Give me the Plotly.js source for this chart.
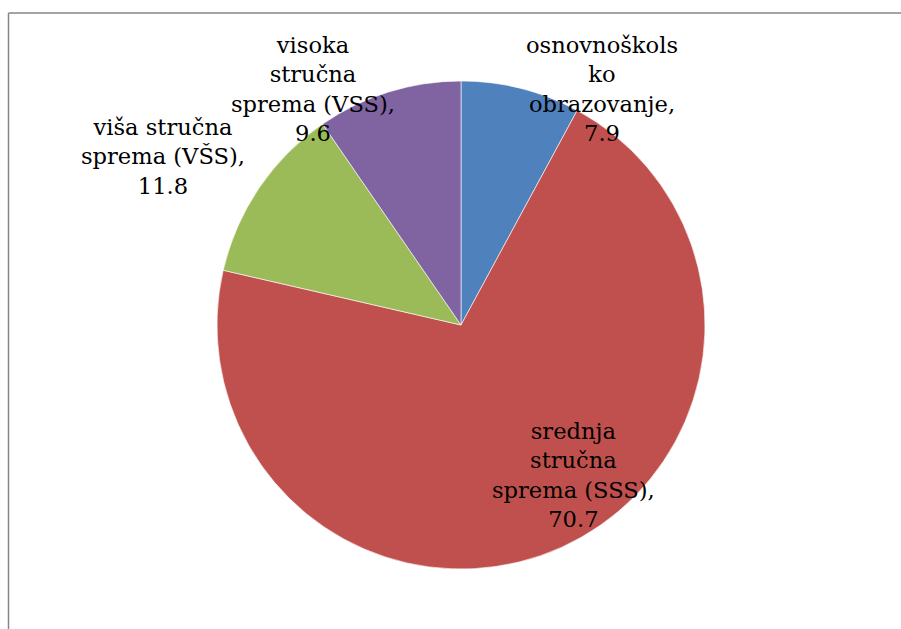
<!DOCTYPE html>
<html>
<head>
<meta charset="utf-8">
<script src="https://cdn.plot.ly/plotly-3.0.1.min.js"></script>
<style>html,body{margin:0;padding:0;background:#fff;}#chart{width:901px;height:629px;}</style>
</head>
<body>
<div id="chart"></div>
<script>
// Data
const categories = ["osnovnoškolsko obrazovanje", "srednja stručna sprema (SSS)", "viša stručna sprema (VŠS)", "visoka stručna sprema (VSS)"];
const wrappedLabels = ["osnovnoškols<br>ko<br>obrazovanje,", "srednja<br>stručna<br>sprema (SSS),", "viša stručna<br>sprema (VŠS),", "visoka<br>stručna<br>sprema (VSS),"];
const values = [7.9, 70.7, 11.8, 9.6];
const colors = ["#4F81BD", "#C0504D", "#9BBB59", "#8064A2"];

// label centres (pixels) for each slice's data label
const labelPos = [[602, 89], [573, 475], [163, 157], [313, 89]];

const W = 901, H = 629;
const cx = 461, cy = 325, r = 244;

const trace = {
  type: "pie",
  labels: categories,
  values: values,
  sort: false,
  direction: "clockwise",
  rotation: 0,
  textinfo: "none",
  hoverinfo: "label+value",
  marker: {colors: colors, line: {color: "rgba(255,255,255,0.6)", width: 1}},
  domain: {x: [(cx - r) / W, (cx + r) / W], y: [(H - cy - r) / H, (H - cy + r) / H]},
  showlegend: false
};

const annotations = categories.map((c, i) => ({
  xref: "paper", yref: "paper",
  x: labelPos[i][0] / W, y: 1 - labelPos[i][1] / H,
  xanchor: "center", yanchor: "middle",
  text: wrappedLabels[i] + "<br>" + values[i].toFixed(1),
  showarrow: false,
  align: "center",
  font: {family: "DejaVu Serif", size: 22.6, color: "#000"}
}));

const layout = {
  width: W, height: H,
  margin: {l: 0, r: 0, t: 0, b: 0},
  paper_bgcolor: "#fff",
  plot_bgcolor: "#fff",
  annotations: annotations,
  shapes: [
    {type: "line", xref: "paper", yref: "paper", x0: 8.5 / W, x1: 1, y0: 1 - 13 / H, y1: 1 - 13 / H, line: {color: "#868686", width: 1.5}},
    {type: "line", xref: "paper", yref: "paper", x0: 8.5 / W, x1: 8.5 / W, y0: 0, y1: 1 - 13 / H, line: {color: "#868686", width: 1.5}}
  ]
};

Plotly.newPlot("chart", [trace], layout, {displayModeBar: false, staticPlot: true});
</script>
</body>
</html>
